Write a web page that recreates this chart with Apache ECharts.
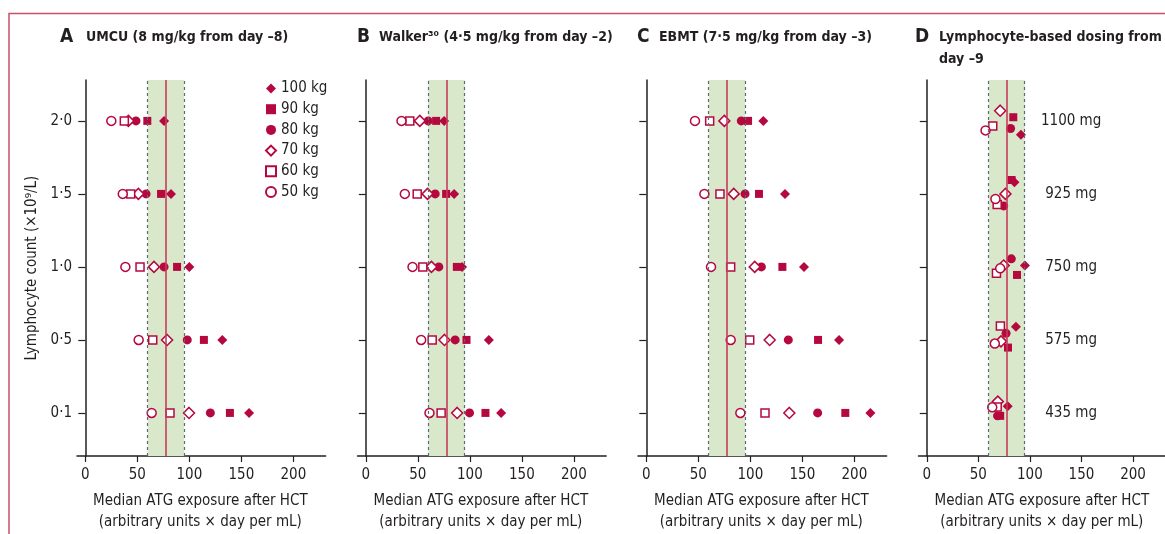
<!DOCTYPE html>
<html>
<head>
<meta charset="utf-8">
<script src="https://cdn.jsdelivr.net/npm/echarts@6/dist/echarts.min.js"></script>
<style>
  html, body { margin: 0; padding: 0; background: #fff; }
  #chart { width: 1165px; height: 534px; }
</style>
</head>
<body>
<div id="chart"></div>
<script>
// weight groups, in legend order
const weights = ['100 kg', '90 kg', '80 kg', '70 kg', '60 kg', '50 kg'];
// lymphocyte count categories (bottom to top)
const lymphLabels = ['0·1', '0·5', '1·0', '1·5', '2·0'];
const xTicks = [0, 50, 100, 150, 200];

// target window and median exposure
const targetLow = 60;
const targetHigh = 95;
const targetMedian = 77.5;

// A: UMCU, one row per weight, values for 0.1 .. 2.0
const umcu = [
  [157.4, 131.7, 100, 82.4, 75.7],
  [139, 114, 88.2, 72.8, 59.6],
  [120.2, 98, 75.7, 58.4, 48.7],
  [99.7, 78.6, 66, 51, 41.4],
  [81.4, 64.8, 52.6, 43.6, 37.5],
  [63.8, 51.3, 38.5, 36, 25]
];
// B: Walker
const walker = [
  [130.1, 118.3, 92.5, 84.9, 75.3],
  [115, 96.8, 87.5, 77.2, 67.6],
  [99.7, 85.9, 70.2, 66.7, 59.9],
  [87.8, 75.6, 63.1, 59.3, 51.9],
  [72.4, 63.8, 54.8, 49.4, 42.3],
  [61.2, 53.2, 44.9, 37.5, 34.3]
];
// C: EBMT
const ebmt = [
  [215.4, 185.3, 151.6, 133.3, 112.5],
  [191.3, 165.1, 130.8, 108.3, 97.8],
  [164.7, 136.5, 110.6, 94.9, 91.3],
  [137.5, 118.6, 104.2, 84, 75],
  [114.1, 99.4, 81.1, 70.8, 60.9],
  [90.4, 81.1, 62.2, 55.8, 46.8]
];
// D: lymphocyte-based dosing, x values and small vertical jitter
const lymphX = [
  [78.5, 86.5, 95.2, 85, 91.3],
  [71.2, 78.8, 87.5, 82.3, 83.9],
  [68.6, 76.9, 82, 74.6, 81.3],
  [68.9, 72, 74.6, 76.3, 71.2],
  [68.3, 71.4, 67.6, 68.3, 64],
  [63.5, 66, 71.2, 66.6, 57]
];
const lymphJitter = [
  [0.09, 0.18, 0.02, 0.16, -0.19],
  [-0.04, -0.105, -0.11, 0.19, 0.05],
  [-0.04, 0.09, 0.11, -0.165, -0.105],
  [0.155, -0.02, 0.02, 0, 0.14],
  [0.08, 0.19, -0.086, -0.145, -0.07],
  [0.077, -0.05, -0.02, -0.07, -0.13]
];
const doseLabels = ['435 mg', '575 mg', '750 mg', '925 mg', '1100 mg'];
const doseLabelX = 140;

const ink = '#231f20';
const crimson = '#b5083f';
const font = "'Liberation Sans Narrow', 'DejaVu Sans Condensed', sans-serif";

const markers = [
  { symbol: 'diamond', size: 10, open: false },
  { symbol: 'rect', size: 8, open: false },
  { symbol: 'circle', size: 9, open: false },
  { symbol: 'diamond', size: 11, open: true },
  { symbol: 'rect', size: 8, open: true },
  { symbol: 'circle', size: 9, open: true }
];

const xMin = -8, xMax = 231;
const gridLefts = [77, 357.5, 638, 918.5];
const gridW = 248.6, gridTop = 80, gridH = 376;
const zeroX = gridLefts.map(l => l + (0 - xMin) * gridW / (xMax - xMin));

const grid = gridLefts.map(l => ({ left: l, top: gridTop, width: gridW, height: gridH }));

const xAxis = gridLefts.map((l, i) => ({
  gridIndex: i, type: 'value', min: xMin, max: xMax,
  axisLine: { onZero: false, lineStyle: { color: ink, width: 1.5 } },
  axisTick: { customValues: xTicks, length: 6, lineStyle: { color: ink, width: 1.2 } },
  axisLabel: { customValues: xTicks, color: ink, fontSize: 15, fontFamily: font, margin: 12 },
  splitLine: { show: false }
}));

const yAxis = gridLefts.map((l, i) => ({
  gridIndex: i, type: 'value', min: -0.59, max: 4.56,
  axisLine: { onZero: true, lineStyle: { color: ink, width: 1.5 } },
  axisTick: { customValues: [0, 1, 2, 3, 4], length: 7, lineStyle: { color: ink, width: 1.2 } },
  axisLabel: {
    show: i === 0, customValues: [0, 1, 2, 3, 4], color: ink, fontSize: 15, fontFamily: font, margin: 5,
    formatter: v => lymphLabels[Math.round(v)]
  },
  splitLine: { show: false },
  name: i === 0 ? 'Lymphocyte count (×10⁹/L)' : '',
  nameLocation: 'middle', nameGap: 37,
  nameTextStyle: { color: ink, fontSize: 15, fontFamily: font }
}));

const series = [];

// target band + median line in each panel
gridLefts.forEach((l, i) => {
  series.push({
    type: 'scatter', xAxisIndex: i, yAxisIndex: i, data: [], z: 1, silent: true,
    markArea: {
      silent: true,
      itemStyle: { color: '#d9e8cb' },
      data: [[{ xAxis: targetLow }, { xAxis: targetHigh }]]
    },
    markLine: {
      silent: true, symbol: 'none', label: { show: false },
      data: [
        { xAxis: targetLow, lineStyle: { color: '#5a6b75', width: 1.2, type: [3, 3] } },
        { xAxis: targetHigh, lineStyle: { color: '#5a6b75', width: 1.2, type: [3, 3] } },
        { xAxis: targetMedian, lineStyle: { color: '#c63d5a', width: 1.6, type: 'solid' } }
      ]
    }
  });
});

function markerSeries(panel, w, data) {
  const m = markers[w];
  return {
    type: 'scatter', name: weights[w], xAxisIndex: panel, yAxisIndex: panel, z: 3,
    symbol: m.symbol, symbolSize: m.size,
    itemStyle: m.open
      ? { color: '#fff', borderColor: crimson, borderWidth: 1.5, opacity: 1 }
      : { color: crimson, opacity: 1 },
    data: data
  };
}

[umcu, walker, ebmt].forEach((tbl, p) => {
  tbl.forEach((row, w) => {
    series.push(markerSeries(p, w, row.map((x, k) => [x, k])));
  });
});
lymphX.forEach((row, w) => {
  series.push(markerSeries(3, w, row.map((x, k) => [x, k + lymphJitter[w][k]])));
});

// dose labels in panel D
series.push({
  type: 'scatter', xAxisIndex: 3, yAxisIndex: 3, symbolSize: 0, silent: true,
  itemStyle: { opacity: 1 },
  data: doseLabels.map((d, k) => ({ value: [doseLabelX, k], name: d })),
  label: {
    show: true, position: 'inside', formatter: p => p.name,
    color: ink, fontSize: 15, fontFamily: font
  }
});

// titles
const titles = [
  { letter: 'A', lx: 60, tx: 86, lines: ['UMCU (8 mg/kg from day –8)'] },
  { letter: 'B', lx: 357, tx: 379, lines: ['Walker³⁰ (4·5 mg/kg from day –2)'] },
  { letter: 'C', lx: 637, tx: 659, lines: ['EBMT (7·5 mg/kg from day –3)'] },
  { letter: 'D', lx: 915, tx: 939, lines: ['Lymphocyte-based dosing from', 'day –9'] }
];

const graphic = [
  { type: 'polyline', shape: { points: [[9, 534], [9, 13.5], [1165, 13.5]] },
    style: { stroke: '#c8506a', lineWidth: 1.5, fill: null } }
];
titles.forEach(t => {
  graphic.push({ type: 'text', x: t.lx, y: 37,
    style: { text: t.letter, fill: ink, font: "bold 19px " + font, textVerticalAlign: 'middle' } });
  t.lines.forEach((s, j) => {
    graphic.push({ type: 'text', x: t.tx, y: 37 + j * 22,
      style: { text: s, fill: ink, font: "bold 14px " + font, textVerticalAlign: 'middle' } });
  });
});
zeroX.forEach(zx => {
  const cx = zx + 115;
  graphic.push({ type: 'text', x: cx, y: 501,
    style: { text: 'Median ATG exposure after HCT', fill: ink, font: "15px " + font, textAlign: 'center', textVerticalAlign: 'middle' } });
  graphic.push({ type: 'text', x: cx, y: 522,
    style: { text: '(arbitrary units × day per mL)', fill: ink, font: "15px " + font, textAlign: 'center', textVerticalAlign: 'middle' } });
});

const chart = echarts.init(document.getElementById('chart'), null, { renderer: 'canvas' });
chart.setOption({
  backgroundColor: '#fff',
  animation: false,
  grid, xAxis, yAxis, series, graphic,
  legend: {
    data: weights, orient: 'vertical', left: 260, top: 76,
    itemWidth: 10, itemHeight: 10, itemGap: 5.7,
    textStyle: { color: ink, fontSize: 15, fontFamily: font },
    selectedMode: false
  }
});
</script>
</body>
</html>
